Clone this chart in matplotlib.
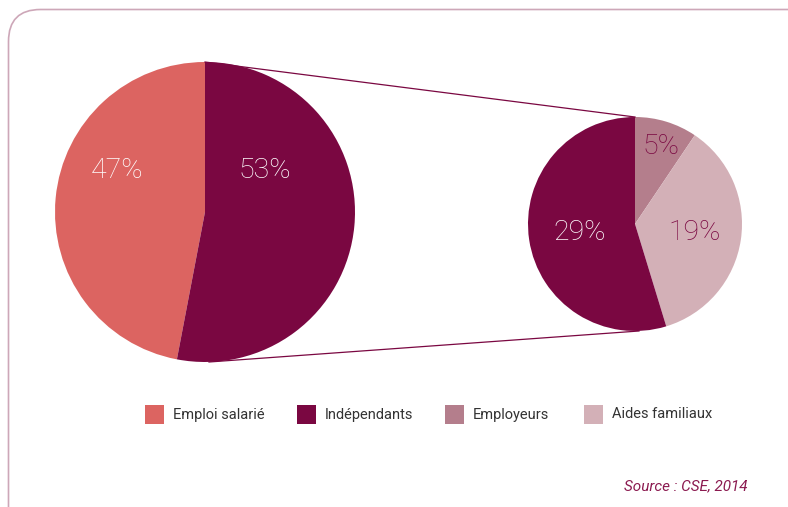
import matplotlib.pyplot as plt
from matplotlib.patches import FancyBboxPatch, Rectangle

# Répartition de l'emploi
main_labels = ["Emploi salarié", "Indépendants"]
main_values = [47, 53]
sub_labels = ["Employeurs", "Aides familiaux", "Indépendants"]
sub_values = [5, 19, 29]

legend_labels = ["Emploi salarié", "Indépendants", "Employeurs", "Aides familiaux"]

coral = "#dc6461"
plum = "#7a0741"
mauve = "#b47e8c"
rose = "#d3b0b7"
legend_colors = [coral, plum, mauve, rose]

W, H = 788, 507
fig = plt.figure(figsize=(W / 100, H / 100), dpi=100)
ax = fig.add_axes([0, 0, 1, 1])

# cadre arrondi
frame = FancyBboxPatch((8.5, -40), 820, 537.5, boxstyle="round,pad=0,rounding_size=32",
                       fc="none", ec="#cda7b8", lw=1.2)
ax.add_patch(frame)

big_c, big_r = (205, H - 212), 150
small_c, small_r = (635, H - 224), 107

# lignes de liaison entre les deux camemberts
ax.plot([big_c[0], small_c[0]], [big_c[1] + big_r, small_c[1] + small_r], color=plum, lw=0.9)
ax.plot([big_c[0] + 4, small_c[0] + 4], [big_c[1] - big_r, small_c[1] - small_r], color=plum, lw=0.9)

pct_font = dict(family="Roboto", fontweight="light", fontsize=20.5)

ax.pie(main_values, colors=[coral, plum], startangle=90, counterclock=True,
       center=big_c, radius=big_r, frame=True)
ax.pie(sub_values, colors=[mauve, rose, plum], startangle=90, counterclock=False,
       center=small_c, radius=small_r, frame=True)

ax.set_xlim(0, W)
ax.set_ylim(0, H)
ax.set_aspect("equal")
ax.axis("off")

# étiquettes de pourcentage
ax.text(117, H - 171, f"{main_values[0]}%", color="white", ha="center", va="center", **pct_font)
ax.text(265, H - 171, f"{main_values[1]}%", color="white", ha="center", va="center", **pct_font)
ax.text(661, H - 147, f"{sub_values[0]}%", color=plum, ha="center", va="center", **pct_font)
ax.text(695, H - 233, f"{sub_values[1]}%", color=plum, ha="center", va="center", **pct_font)
ax.text(580, H - 233, f"{sub_values[2]}%", color="white", ha="center", va="center", **pct_font)

# légende
box_x = [145, 297, 445, 584]
for x, lab, col in zip(box_x, legend_labels, legend_colors):
    ax.add_patch(Rectangle((x, H - 424), 19, 19, color=col, lw=0))
    ax.text(x + 28, H - 414.5, lab, color="#333333", fontsize=10.5,
            family="Roboto", ha="left", va="center")

ax.text(748, H - 486, "Source : CSE, 2014", color="#8b1a50", fontsize=11,
        family="Roboto", style="italic", ha="right", va="center")

fig.savefig("out.png", dpi=100)
